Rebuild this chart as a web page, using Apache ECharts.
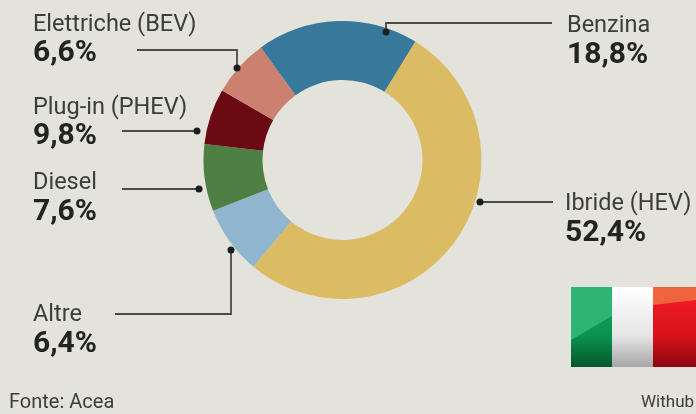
<!DOCTYPE html>
<html>
<head>
<meta charset="utf-8">
<script src="https://cdn.jsdelivr.net/npm/echarts@6/dist/echarts.min.js"></script>
<style>
html, body { margin: 0; padding: 0; background: #e3e3dc; overflow: hidden; }
#chart { width: 696px; height: 414px; }
</style>
</head>
<body>
<div id="chart"></div>
<script>
// Clockwise from the Benzina/Ibride boundary
var categories = ['Ibride (HEV)', 'Altre', 'Diesel', 'Plug-in (PHEV)', 'Elettriche (BEV)', 'Benzina'];
// Printed figures (they add up to 101,6)
var printed = ['52,4%', '6,4%', '7,6%', '9,8%', '6,6%', '18,8%'];
var drawn = [52.4, 8.0, 7.8, 6.5, 6.7, 18.8];
var colors = ['#dcbc63', '#90b5cf', '#4e7f45', '#6b0a12', '#cb8070', '#38789a'];

var chart = echarts.init(document.getElementById('chart'));

var fontFamily = 'Roboto';
var inkLight = '#3c3c3a';
var inkBold = '#232322';
var lineColor = '#4a4a46';

// Callout layout: text position, leader line and dot, same order as categories
var callouts = [
    { x: 565, y: 204, vy: 233, line: [[553, 202], [480, 202]] },
    { x: 33, y: 315, vy: 344, line: [[115, 314], [231, 314], [231, 250]] },
    { x: 33, y: 183, vy: 212, line: [[122, 189], [199, 189]] },
    { x: 33, y: 108, vy: 136, line: [[122, 131], [197, 131]] },
    { x: 33, y: 25, vy: 53, line: [[137, 50], [237, 50], [237, 68]] },
    { x: 567, y: 26, vy: 55, line: [[552, 23], [386, 23], [386, 32]] }
];

var graphics = [];

callouts.forEach(function (c, i) {
    graphics.push({
        type: 'text', x: c.x, y: c.y,
        style: { text: categories[i], fontFamily: fontFamily, fontSize: 23.5, fill: inkLight, textVerticalAlign: 'middle' }
    });
    graphics.push({
        type: 'text', x: c.x, y: c.vy,
        style: { text: printed[i], fontFamily: fontFamily, fontSize: 30, fontWeight: 'bold', fill: inkBold, textVerticalAlign: 'middle' }
    });
    graphics.push({
        type: 'polyline', z: 10,
        shape: { points: c.line },
        style: { stroke: lineColor, lineWidth: 1.8, fill: null }
    });
    var end = c.line[c.line.length - 1];
    graphics.push({
        type: 'circle', z: 11,
        shape: { cx: end[0], cy: end[1], r: 3.5 },
        style: { fill: '#1d1d1f' }
    });
});

graphics.push({
    type: 'text', x: 9, y: 403,
    style: { text: 'Fonte: Acea', fontFamily: fontFamily, fontSize: 20, fill: inkLight, textVerticalAlign: 'middle' }
});
graphics.push({
    type: 'text', x: 641, y: 403,
    style: { text: 'Withub', fontFamily: fontFamily, fontSize: 17, fill: inkLight, textVerticalAlign: 'middle' }
});

// Flag
function vGrad(top, mid, bottom) {
    return new echarts.graphic.LinearGradient(0, 0, 0, 1, [
        { offset: 0, color: top },
        { offset: 0.6, color: mid },
        { offset: 1, color: bottom }
    ]);
}
graphics.push({ type: 'rect', shape: { x: 571, y: 287, width: 41, height: 80 }, style: { fill: vGrad('#12a45c', '#0a9650', '#05552c') } });
graphics.push({ type: 'rect', shape: { x: 612, y: 287, width: 41, height: 80 }, style: { fill: vGrad('#ffffff', '#e6e6e6', '#a6a6a6') } });
graphics.push({ type: 'rect', shape: { x: 653, y: 287, width: 43, height: 80 }, style: { fill: vGrad('#f51c24', '#d8141c', '#8c0510') } });
graphics.push({ type: 'polygon', shape: { points: [[571, 287], [612, 287], [612, 316], [571, 340]] }, style: { fill: '#2fb573' } });
graphics.push({ type: 'polygon', shape: { points: [[653, 287], [696, 287], [696, 300], [653, 305]] }, style: { fill: '#f0633f' } });

var option = {
    backgroundColor: '#e3e3dc',
    animation: false,
    color: colors,
    series: [
        {
            type: 'pie',
            center: [342.5, 160],
            radius: [80, 139],
            startAngle: 58.4,
            clockwise: true,
            silent: true,
            label: { show: false },
            labelLine: { show: false },
            data: categories.map(function (name, i) {
                return { name: name, value: drawn[i] };
            })
        }
    ],
    graphic: graphics
};

chart.setOption(option);
</script>
</body>
</html>
